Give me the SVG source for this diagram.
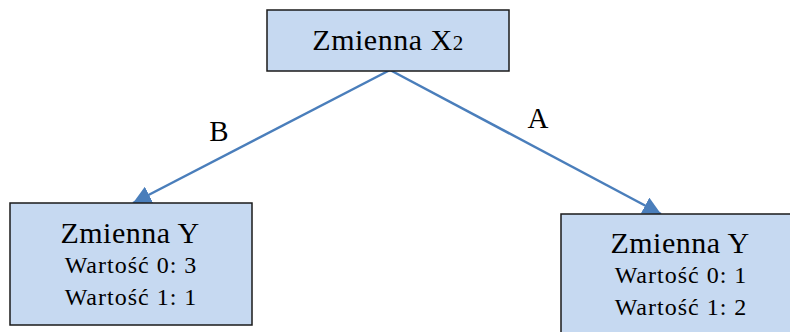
<svg xmlns="http://www.w3.org/2000/svg" width="790" height="332" viewBox="0 0 790 332">
  <style>
    .box { fill: #C6D9F1; stroke: #1a1a1a; stroke-width: 1.5; }
    .title { font-family: "Liberation Serif", "Times New Roman", serif; font-size: 30px; fill: #000; text-anchor: middle; letter-spacing: 0.5px; }
    .val { font-family: "Liberation Serif", "Times New Roman", serif; font-size: 24px; fill: #000; text-anchor: middle; letter-spacing: 1px; }
    .lbl { font-family: "Liberation Serif", "Times New Roman", serif; font-size: 29px; fill: #000; text-anchor: middle; }
    .edge { stroke: #4A7EBB; stroke-width: 2.5; fill: none; marker-end: url(#arrow); }
  </style>
  <defs>
    <marker id="arrow" markerWidth="8" markerHeight="7" refX="7" refY="3.5" orient="auto" markerUnits="userSpaceOnUse" viewBox="0 0 8 7">
      <path d="M0,0 L8,3.5 L0,7 Z" fill="#4A7EBB"/>
    </marker>
    <marker id="arrowBig" viewBox="0 0 10 10" refX="10" refY="5" markerWidth="18" markerHeight="18" orient="auto" markerUnits="userSpaceOnUse">
      <path d="M0,0 L10,5 L0,10 Z" fill="#4A7EBB"/>
    </marker>
  </defs>

  <g id="connectors">
    <line class="edge" x1="390" y1="70" x2="133" y2="203" style="marker-end:url(#arrowBig)"/>
    <line class="edge" x1="390" y1="70" x2="661" y2="214" style="marker-end:url(#arrowBig)"/>
    <text class="lbl" x="219" y="141">B</text>
    <text class="lbl" x="538" y="128">A</text>
  </g>

  <g id="node-x2">
    <rect class="box" x="267" y="10" width="242" height="61"/>
    <text class="title" x="388" y="50">Zmienna X<tspan font-size="21px">2</tspan></text>
  </g>

  <g id="node-y-b">
    <rect class="box" x="10" y="203" width="242" height="122"/>
    <text class="title" x="130" y="243">Zmienna Y</text>
    <text class="val" x="131" y="273">Wartość 0: 3</text>
    <text class="val" x="131" y="305">Wartość 1: 1</text>
  </g>

  <g id="node-y-a">
    <rect class="box" x="561" y="214" width="240" height="130"/>
    <text class="title" x="680" y="253">Zmienna Y</text>
    <text class="val" x="681" y="283">Wartość 0: 1</text>
    <text class="val" x="681" y="315">Wartość 1: 2</text>
  </g>
</svg>
